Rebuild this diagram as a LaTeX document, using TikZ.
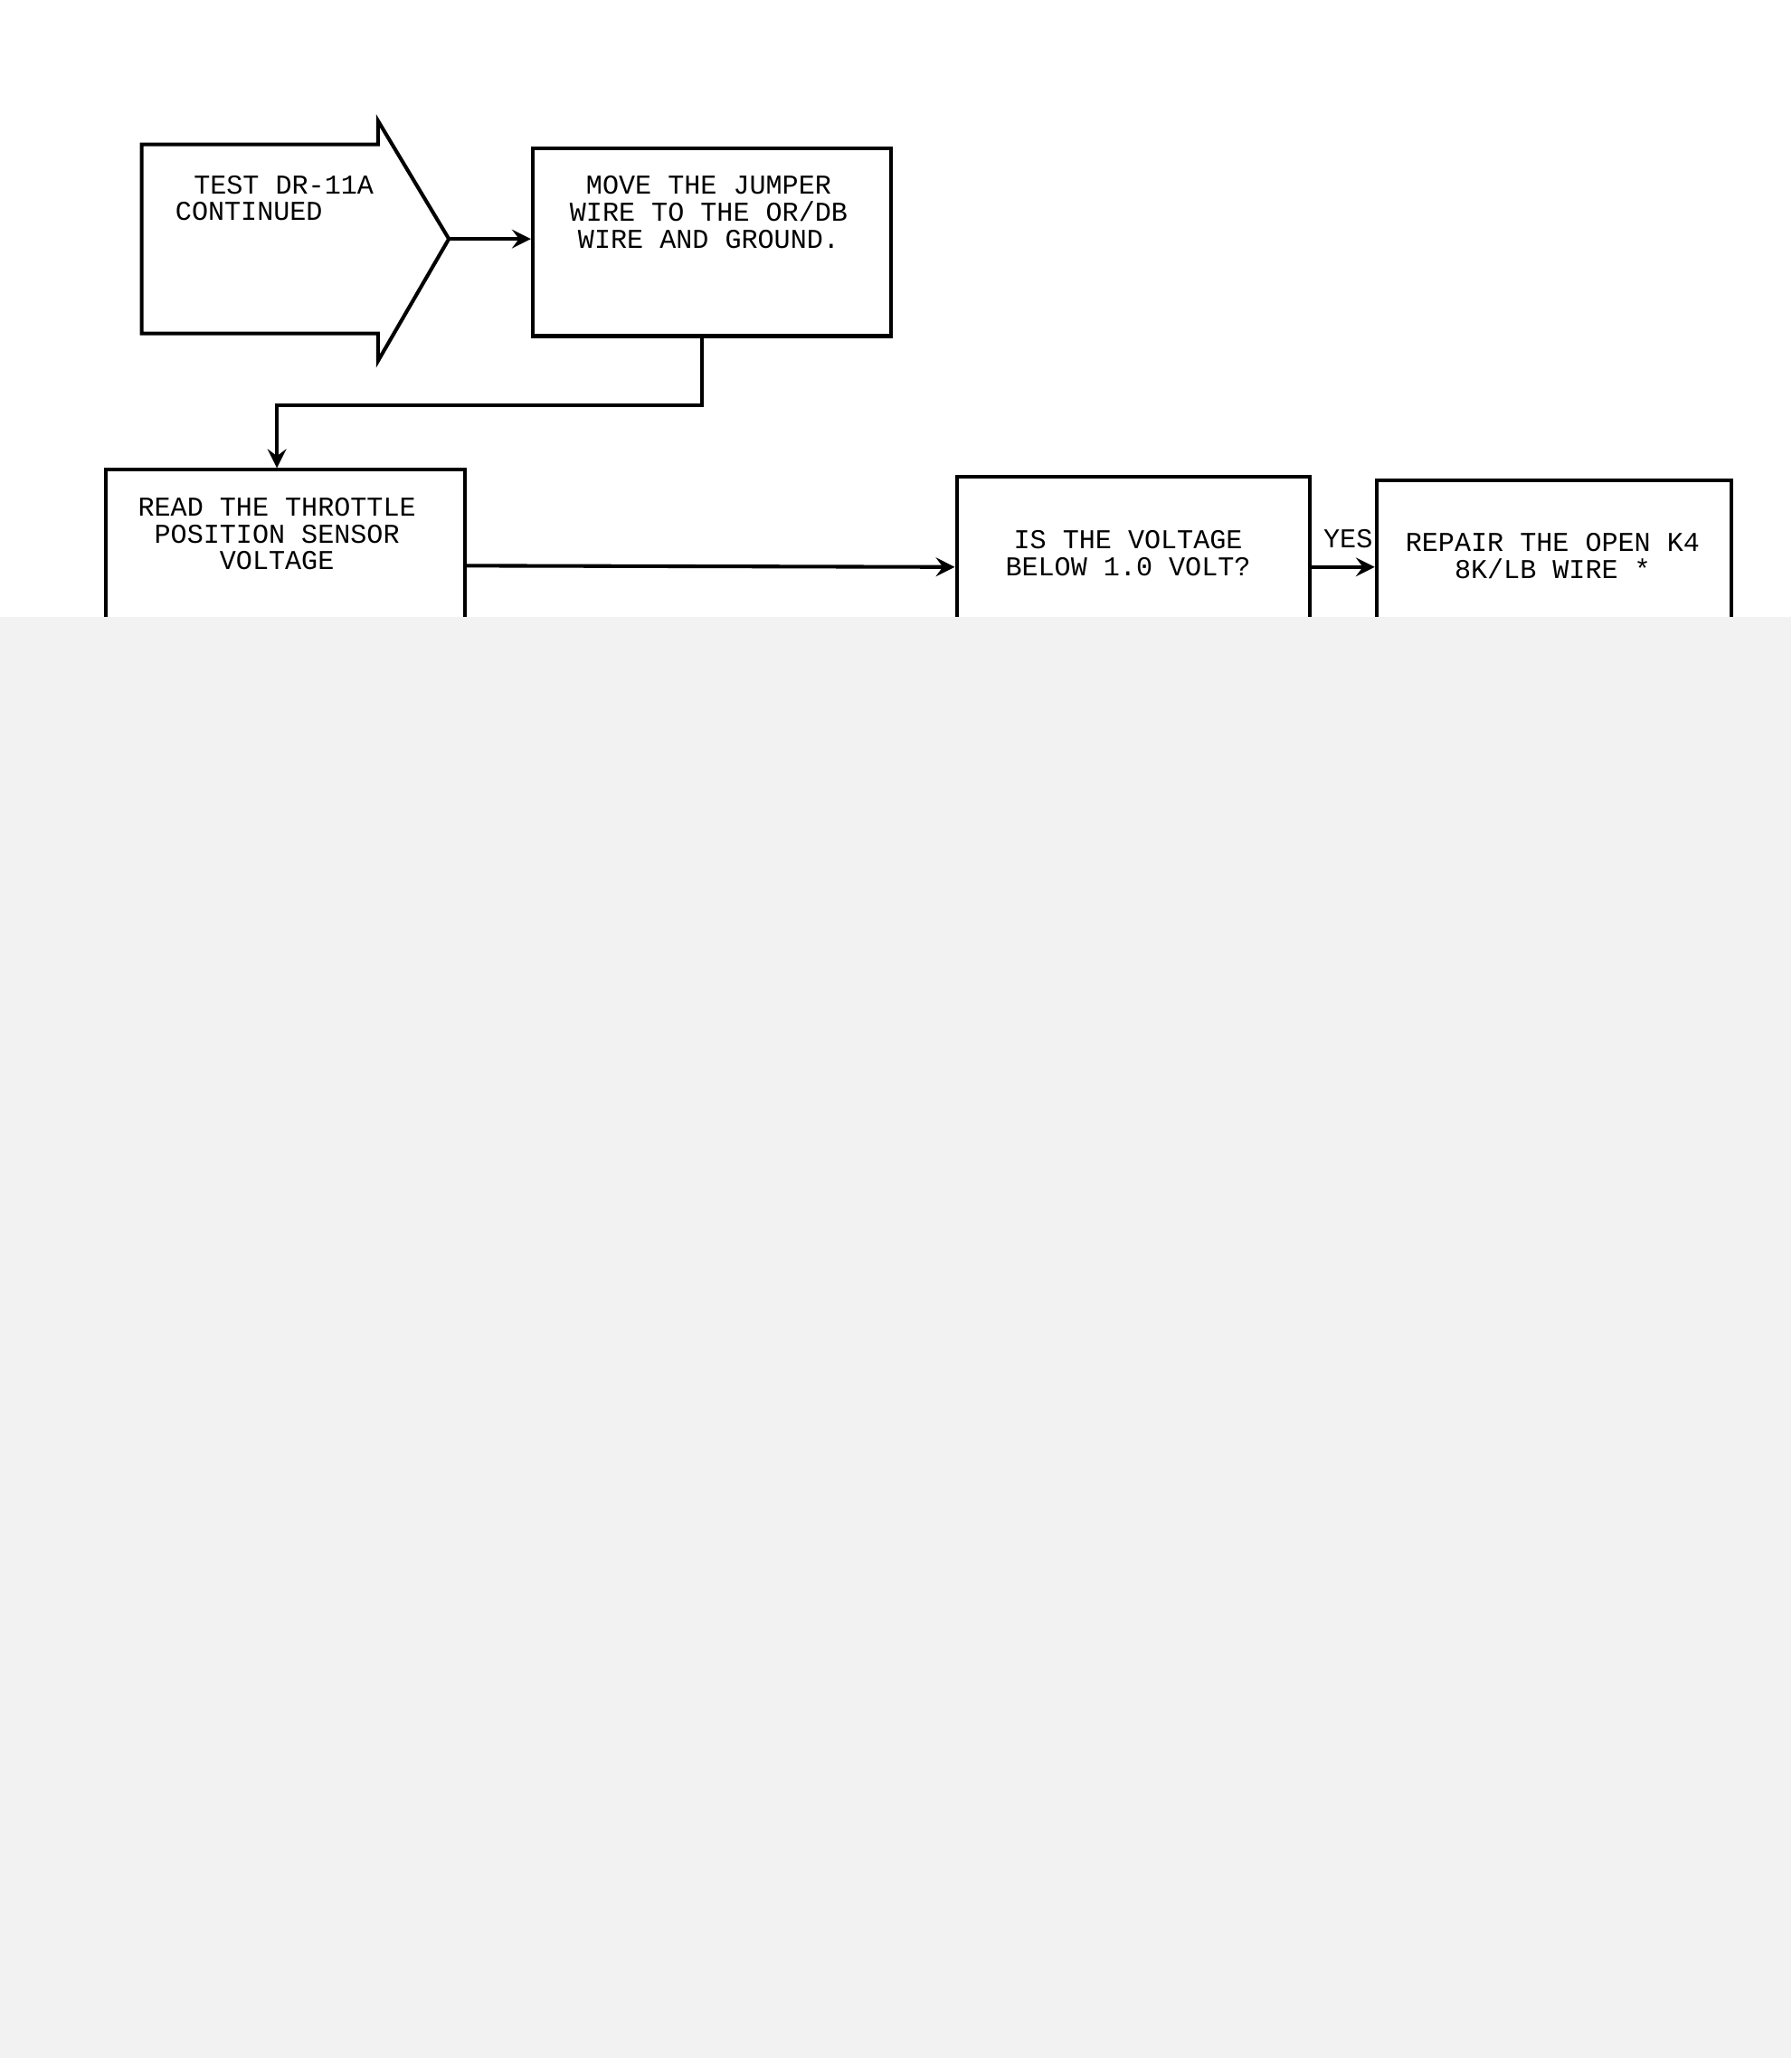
\documentclass[tikz,border=0pt]{standalone}
\usepackage{fontspec}
\setmonofont{Liberation Mono}
\usetikzlibrary{positioning}
\tikzset{
  >=stealth,
  box/.style={draw, line width=0.8pt, inner sep=0pt},
  txt/.style={font=\ttfamily\fontsize{5.9}{5.8}\selectfont, align=center, inner sep=0pt},
  conn/.style={line width=0.8pt, ->},
}
\begin{document}
\begin{tikzpicture}[x=0.01cm,y=-0.01cm]
  \useasboundingbox (0,0) rectangle (1365,1568);
  \fill[black!5] (0,470) rectangle (1365,1568); % blurred part of the page
  \begin{scope}
    \clip (0,0) rectangle (1365,470);
    % entry arrow
    \draw[line width=0.8pt] (108,110) -- (288,110) -- (288,92) -- (342,182)
      -- (288,275) -- (288,254) -- (108,254) -- cycle;
    \coordinate (tip) at (342,182);
    \node[txt, align=left, anchor=north west] (start) at (133,133)
      {\hspace*{0.14cm}TEST DR-11A\\CONTINUED};
    % boxes
    \node[box, minimum width=2.73cm, minimum height=1.43cm] (jumper) at (542.5,184.5) {};
    \node[box, minimum width=2.73cm, minimum height=1.46cm] (read) at (217.5,431) {};
    \node[box, minimum width=2.69cm, minimum height=1.38cm] (ask) at (863.5,432) {};
    \node[box, minimum width=2.70cm, minimum height=1.32cm] (repair) at (1184,432) {};
    % texts
    \node[txt, anchor=north] (tjumper) at ([xshift=-0.025cm,yshift=-0.22cm]jumper.north)
      {MOVE THE JUMPER\\WIRE TO THE OR/DB\\WIRE AND GROUND.};
    \node[txt, anchor=north] (tread) at ([xshift=-0.065cm,yshift=-0.22cm]read.north)
      {READ THE THROTTLE\\POSITION SENSOR\\VOLTAGE};
    \node[txt, anchor=north] (task) at ([xshift=-0.04cm,yshift=-0.42cm]ask.north)
      {IS THE VOLTAGE\\BELOW 1.0 VOLT?};
    \node[txt, anchor=north] (trepair) at ([xshift=-0.01cm,yshift=-0.41cm]repair.north)
      {REPAIR THE OPEN K4\\8K/LB WIRE *};
    % connectors
    \draw[conn] (tip) -- (tip -| jumper.west);
    \draw[conn] ([xshift=-0.075cm]jumper.south) -- ++(0,51) -| ([xshift=-0.065cm]read.north);
    \draw[conn] (read.east) -- (ask.west);
    \draw[conn] (ask.east) -- (repair.west);
    \node[txt, anchor=south east] (yes) at ([xshift=-0.01cm,yshift=0.14cm]repair.west) {YES};
  \end{scope}
\end{tikzpicture}
\end{document}
